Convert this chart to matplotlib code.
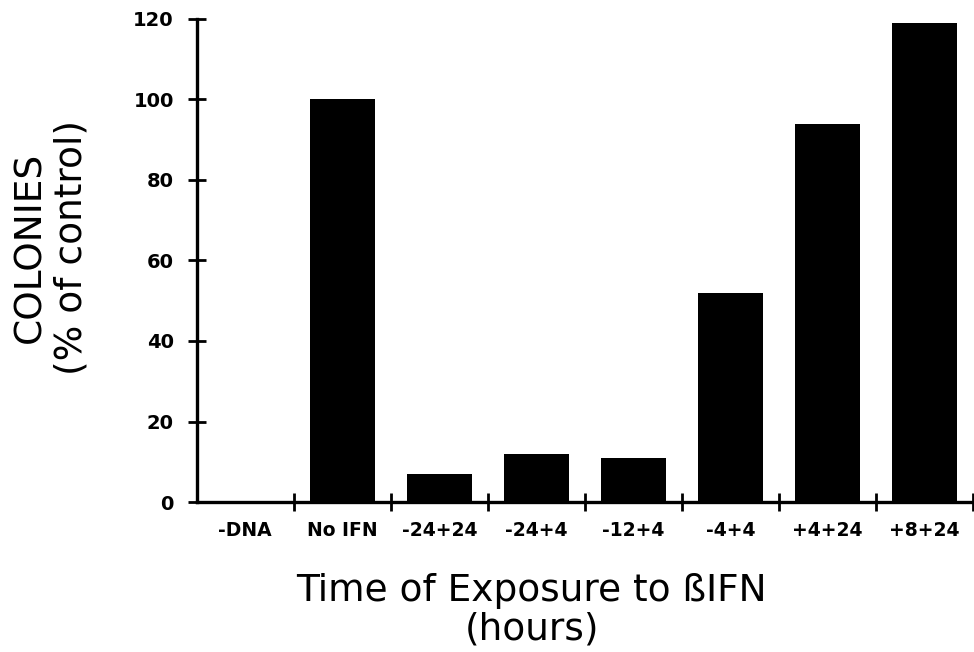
import matplotlib
matplotlib.use("Agg")
import matplotlib.pyplot as plt
import numpy as np

categories = ["-DNA", "No IFN", "-24+24", "-24+4", "-12+4", "-4+4", "+4+24", "+8+24"]
colonies = [0, 100, 7, 12, 11, 52, 94, 119]
y_ticks = [0, 20, 40, 60, 80, 100, 120]

plt.rcParams["font.family"] = ["DejaVu Sans"]

fig = plt.figure(figsize=(9.74, 6.52), dpi=100)
ax = fig.add_axes([0.202, 0.230, 0.797, 0.741])

x = np.arange(len(categories))
ax.bar(x, colonies, width=0.67, color="black", edgecolor="black", linewidth=0)

ax.set_xlim(-0.5, len(categories) - 0.5)
ax.set_ylim(0, 120)

for side in ("top", "right"):
    ax.spines[side].set_visible(False)
for side in ("left", "bottom"):
    ax.spines[side].set_linewidth(2.4)

ax.set_yticks(y_ticks)
ax.set_yticklabels([str(v) for v in y_ticks], fontsize=14, fontweight="bold")
ax.tick_params(axis="y", direction="inout", length=13, width=2, pad=10)

# category ticks sit between the bars, labels centred under each bar
ax.set_xticks(x + 0.5, minor=False)
ax.set_xticklabels([])
ax.tick_params(axis="x", which="major", direction="inout", length=13, width=2)
ax.set_xticks(x, minor=True)
ax.set_xticklabels(categories, minor=True, fontsize=13.5, fontweight="bold")
ax.tick_params(axis="x", which="minor", length=0, pad=14)

fig.text(0.052, 0.621, "COLONIES\n(% of control)", rotation=90,
         ha="center", va="center", multialignment="center",
         fontsize=27, linespacing=1.17)
fig.text(0.546, 0.064, "Time of Exposure to \u00dfIFN\n(hours)",
         ha="center", va="center", multialignment="center",
         fontsize=27, linespacing=1.07)

fig.savefig("out.png", dpi=100, facecolor="white")
